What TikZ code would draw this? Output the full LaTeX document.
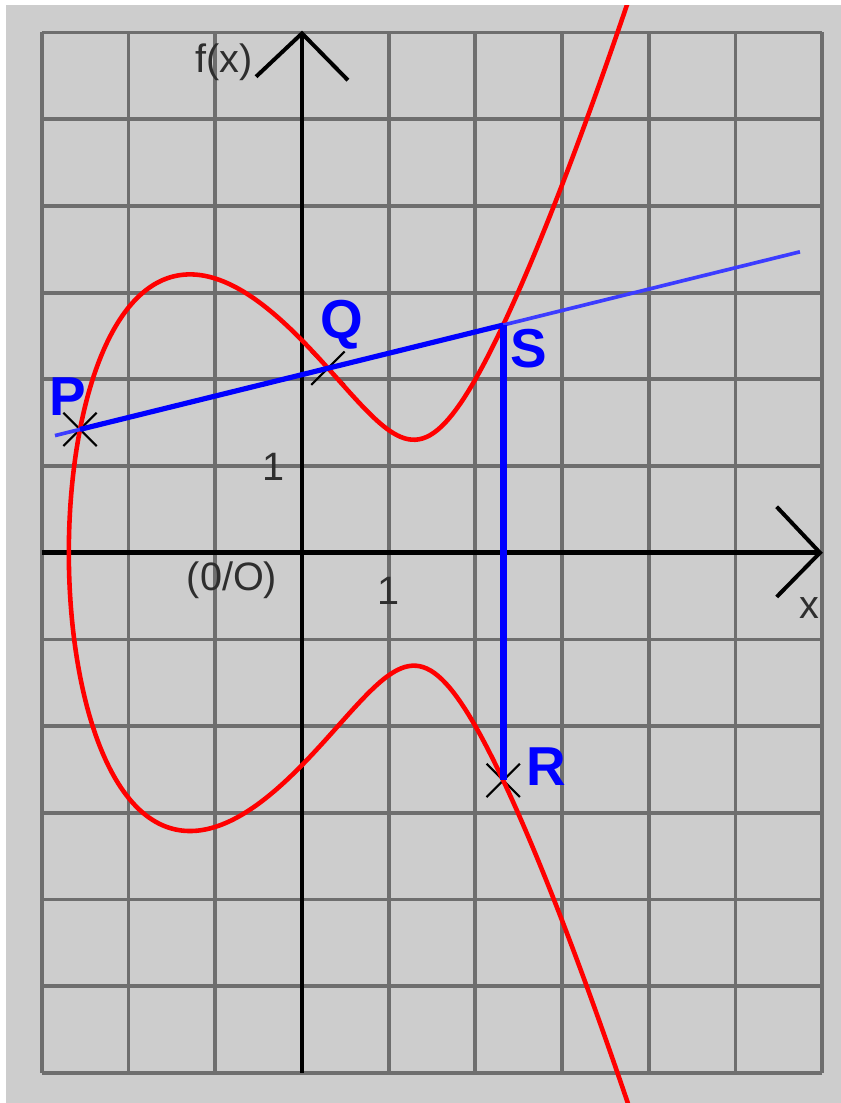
\documentclass[tikz,border=0pt]{standalone}
\usepackage{fontspec}
\setmainfont{Liberation Sans}
\usetikzlibrary{shapes.misc}
\definecolor{bg}{HTML}{CDCDCD}
\definecolor{gridc}{HTML}{6E6E6E}
\definecolor{txt}{HTML}{2E2E2E}
\definecolor{lblue}{HTML}{3C3CFF}
\begin{document}
\begin{tikzpicture}[x=1cm,y=1cm,
  gridline/.style={draw=gridc, line width=1.25pt},
  axisline/.style={draw=black, line width=1.6pt},
  arrowarm/.style={draw=black, line width=1.3pt},
  curveline/.style={draw=red, line width=1.5pt, line join=round},
  chordthick/.style={draw=blue, line width=1.7pt},
  chordthin/.style={draw=lblue, line width=1.2pt},
  vertline/.style={draw=blue, line width=2.3pt},
  crossmark/.style={cross out, draw=black, line width=0.7pt, minimum size=0.36cm, inner sep=0pt},
  ptlabel/.style={text=blue, font=\fontsize{18}{20}\selectfont\bfseries, inner sep=0pt, anchor=base},
  axlabel/.style={text=txt, font=\fontsize{13}{15}\selectfont, inner sep=0pt}]
\def\rr{-2.68911}
\useasboundingbox (-3.483,-6.347) rectangle (6.217,6.375);
\fill[white] (-3.483,-6.347) rectangle (6.217,6.375);
\fill[bg] (-3.414,-6.347) rectangle (6.217,6.317);
\begin{scope}
\clip (-3.414,-6.347) rectangle (6.217,6.317);
% grid
\draw[gridline] (-3,-6) grid (6,6);
% axes
\coordinate (ytip) at (0,5.99);
\coordinate (ybot) at (0,-6);
\coordinate (xleft) at (-3,0);
\coordinate (xtip) at (5.975,0);
\draw[axisline] (ybot) -- (ytip);
\draw[axisline] (xleft) -- (xtip);
\draw[arrowarm] (ytip) ++(-0.53,-0.50) -- (ytip) -- ++(0.53,-0.54);
\draw[arrowarm] (xtip) ++(-0.50,0.53) -- (xtip) -- ++(-0.50,-0.51);
% axis labels
\node[axlabel] (fx) at (-0.90,5.66) {f(x)};
\node[axlabel, anchor=base] (xlab) at (5.85,-0.754) {x};
\node[axlabel] (orig) at (-0.807,-0.319) {(0/O)};
\node[axlabel, anchor=base] (oney) at (-0.334,0.8385) {1};
\node[axlabel, anchor=base] (onex) at (1.003,-0.603) {1};
% points
\coordinate (P) at (-2.56,1.422247);
\coordinate (Q) at (0.3,2.127675);
\coordinate (S) at (2.320838,2.626121);
\coordinate (R) at (2.320838,-2.626121);
\coordinate (Lstart) at (-2.849,1.350965);
\coordinate (Lend) at (5.744,3.470454);
\node[crossmark] (Pm) at (P) {};
\node[crossmark] (Qm) at (Q) {};
\node[crossmark] (Rm) at (R) {};
% elliptic curve y^2 = x^3 - 5x + 6
\draw[curveline] plot[domain=-2.62:2.62, samples=500, variable=\t]
  ({\rr+(\t)*(\t)}, {(\t)*sqrt((\rr+(\t)*(\t))*(\rr+(\t)*(\t))+(\rr)*(\rr+(\t)*(\t))+(\rr)*(\rr)-5)});
% chord and reflection
\draw[chordthin] (Lstart) -- (Lend);
\draw[chordthick] (P) -- (S);
\draw[vertline] (S) -- (R);
% point labels
\node[ptlabel] (Plab) at (-2.699,1.588) {P};
\node[ptlabel] (Qlab) at (0.461,2.474) {Q};
\node[ptlabel] (Slab) at (2.618,2.131) {S};
\node[ptlabel] (Rlab) at (2.814,-2.68) {R};
\end{scope}
\end{tikzpicture}
\end{document}
